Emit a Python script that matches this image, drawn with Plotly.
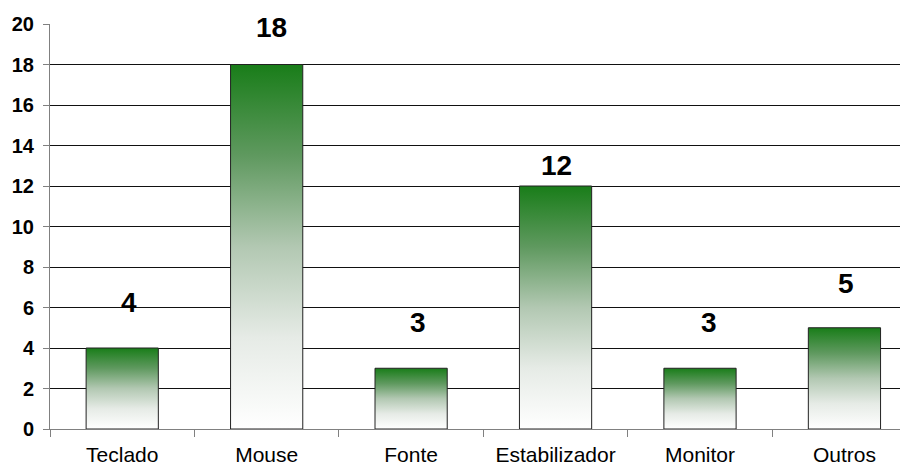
import plotly.graph_objects as go

categories = ["Teclado", "Mouse", "Fonte", "Estabilizador", "Monitor", "Outros"]
values = [4, 18, 3, 12, 3, 5]
labels = ["4", "18", "3", "12", "3", "5"]
label_dy = [46, 37, 46, 21, 46, 44]
label_dx = [7, 5, 7, 1, 9, 2]

fig = go.Figure()

half = 0.25
for i, (c, v) in enumerate(zip(categories, values)):
    fig.add_trace(go.Scatter(
        x=[i - half, i - half, i + half, i + half, i - half],
        y=[0, v, v, 0, 0],
        mode="lines",
        fill="toself",
        fillgradient=dict(
            type="vertical",
            start=0, stop=v,
            colorscale=[[0, "#ffffff"], [0.25, "#e6ebe6"], [0.5, "#b2c8b2"],
                        [0.75, "#5f995f"], [1, "#197d19"]],
        ),
        line=dict(color="#222222", width=1),
        xaxis="x2",
        hoverinfo="skip",
        showlegend=False,
    ))

fig.add_trace(go.Bar(
    x=categories, y=values,
    marker=dict(color="rgba(0,0,0,0)", line=dict(width=0)),
    showlegend=False, hoverinfo="skip",
))

for c, v, t, dy, dx in zip(categories, values, labels, label_dy, label_dx):
    fig.add_annotation(x=c, y=v, text=t, showarrow=False, yshift=dy, xshift=dx,
                       yanchor="middle",
                       font=dict(family="Liberation Sans, Arial", size=28, color="black", weight="bold"))

rng = [-0.5, 5.44]
fig.update_layout(
    width=900, height=461,
    margin=dict(l=42, r=0, t=16, b=40),
    paper_bgcolor="white", plot_bgcolor="white",
    bargap=0.5,
    font=dict(family="Liberation Sans, Arial", color="black"),
    xaxis=dict(
        type="category", range=rng,
        showgrid=False, showline=True, linecolor="#808080", linewidth=1,
        ticks="outside", tickson="boundaries", ticklen=7, tickcolor="#808080",
        tickfont=dict(size=21), zeroline=False, ticklabelstandoff=7,
    ),
    xaxis2=dict(overlaying="x", range=rng, visible=False),
    yaxis=dict(
        range=[0, 20], dtick=2, tick0=0,
        showgrid=True, gridcolor="#111111", gridwidth=1,
        showline=True, linecolor="#808080", linewidth=1,
        ticks="outside", ticklen=6, tickcolor="#808080",
        tickfont=dict(size=20, weight="bold"), ticklabelstandoff=5,
        zeroline=False,
    ),
)

fig.write_html("out.html")
